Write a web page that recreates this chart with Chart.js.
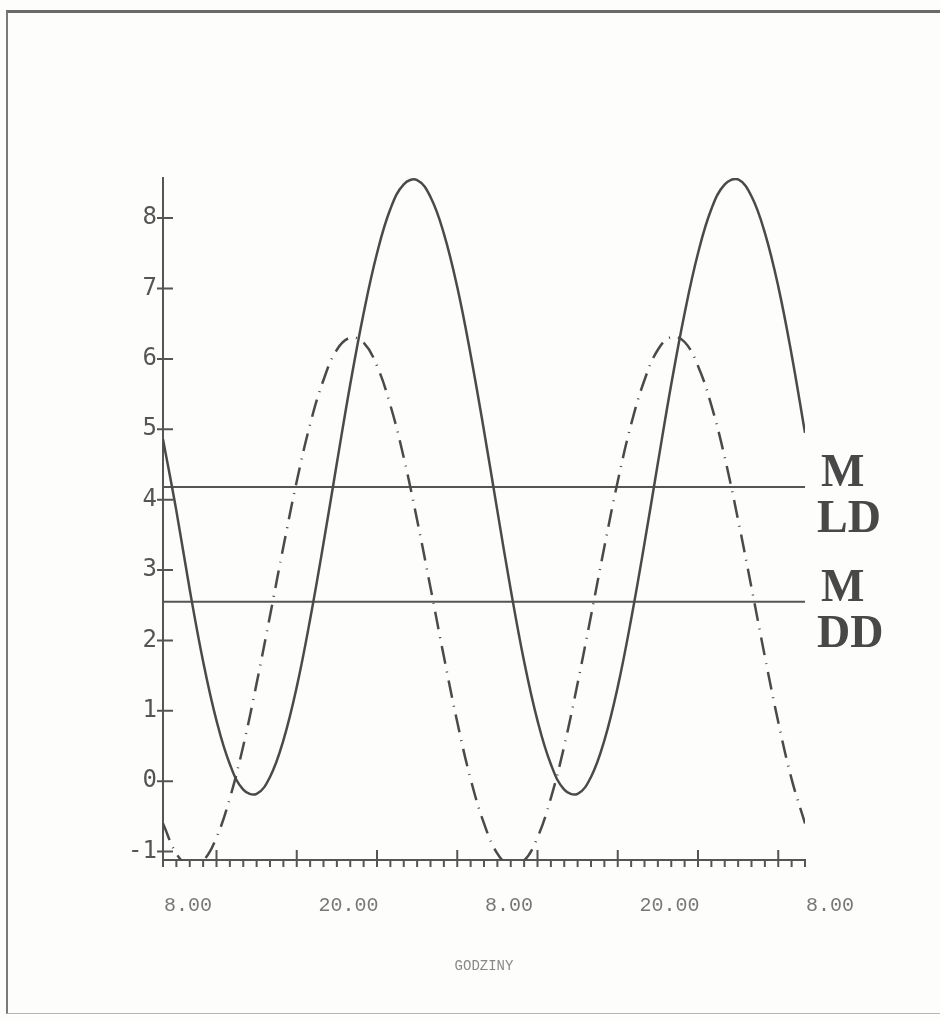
<!DOCTYPE html>
<html>
<head>
<meta charset="utf-8">
<script src="https://cdn.jsdelivr.net/npm/chart.js@4.4.0/dist/chart.umd.min.js"></script>
<style>
  html, body { margin: 0; padding: 0; background: #fdfdfc; }
  #frame {
    position: absolute; left: 6px; top: 10px; width: 940px; height: 1004px;
    border-top: 3px solid #6a6a6a; border-left: 2px solid #7a7a7a; border-bottom: 1px solid #b5b5b5;
    box-sizing: border-box;
  }
  #chart { position: absolute; left: 0; top: 0; }
</style>
</head>
<body>
<div id="frame"></div>
<canvas id="chart" width="940" height="1019"></canvas>
<script>
// ── DATA ─────────────────────────────────────────────────────
// hours counted from 8.00 on the first day
const hours = [0,1,2,3,4,5,6,7,8,9,10,11,12,13,14,15,16,17,18,19,20,21,22,23,24,
               25,26,27,28,29,30,31,32,33,34,35,36,37,38,39,40,41,42,43,44,45,46,47,48];

// solid curve (LD)
const ldValues = [4.86,3.84,2.72,1.70,0.86,0.24,-0.12,-0.18,0.06,0.58,1.34,2.30,3.38,4.52,5.64,6.65,7.50,8.13,8.48,8.54,8.30,7.78,7.02,6.06,4.98,
                  3.84,2.72,1.70,0.86,0.24,-0.12,-0.18,0.06,0.58,1.34,2.30,3.38,4.52,5.64,6.65,7.50,8.13,8.48,8.55,8.31,7.79,7.03,6.06,4.95];

// dash-dot curve (DD)
const ddValues = [-0.60,-1.03,-1.20,-1.13,-0.80,-0.24,0.50,1.39,2.35,3.33,4.26,5.07,5.70,6.13,6.30,6.23,5.90,5.34,4.60,3.71,2.75,1.77,0.84,0.03,-0.60,
                  -1.03,-1.20,-1.13,-0.80,-0.24,0.50,1.39,2.35,3.33,4.26,5.07,5.70,6.13,6.31,6.24,5.90,5.34,4.60,3.71,2.75,1.77,0.84,0.03,-0.60];

// mesor lines
const mesorNames  = ['LD', 'DD'];
const mesorValues = [4.18, 2.55];

// axes
const yTicks      = [-1, 0, 1, 2, 3, 4, 5, 6, 7, 8];
const xTickPos    = [0, 12, 24, 36, 48];
const xTickLabels = ['8.00', '20.00', '8.00', '20.00', '8.00'];
const majorHours  = [4, 10, 16, 22, 28, 34, 40, 46];
const xTitle      = 'GODZINY';

// ── STYLE ────────────────────────────────────────────────────
const INK  = '#4a4a4a';
const AXIS = '#555555';

const pts = vals => hours.map((h, i) => ({ x: h, y: vals[i] }));

// ── PLUGINS ──────────────────────────────────────────────────
const tickMarks = {
  id: 'tickMarks',
  afterDatasetsDraw(chart) {
    const { ctx, chartArea: a, scales: { x, y } } = chart;
    ctx.save();
    ctx.strokeStyle = AXIS;
    ctx.lineWidth = 2;
    ctx.beginPath();
    yTicks.forEach(v => {
      const py = y.getPixelForValue(v);
      ctx.moveTo(a.left - 6, py);
      ctx.lineTo(a.left + 10, py);
    });
    hours.forEach(h => {
      const px = x.getPixelForValue(h);
      const major = majorHours.includes(h);
      ctx.moveTo(px, a.bottom - (major ? 10 : 0));
      ctx.lineTo(px, a.bottom + 7);
    });
    // y axis runs a little past the x axis
    ctx.moveTo(a.left, a.bottom);
    ctx.lineTo(a.left, a.bottom + 6);
    ctx.stroke();
    ctx.restore();
  },
};

const mesorLabels = {
  id: 'mesorLabels',
  afterDatasetsDraw(chart) {
    const { ctx, chartArea: a, scales: { y } } = chart;
    ctx.save();
    ctx.fillStyle = '#484848';
    ctx.font = 'bold 46px "Liberation Serif"';
    ctx.textAlign = 'left';
    ctx.textBaseline = 'alphabetic';
    mesorNames.forEach((name, i) => {
      const py = y.getPixelForValue(mesorValues[i]);
      ctx.fillText('M', a.right + 16, py - 1);
      ctx.fillText(name, a.right + 12, py + 45);
    });
    ctx.restore();
  },
};

// ── CHART ────────────────────────────────────────────────────
new Chart(document.getElementById('chart'), {
  type: 'line',
  data: {
    datasets: [
      { data: pts(ldValues), borderColor: INK, borderWidth: 2.5, pointRadius: 0, tension: 0.4 },
      { data: pts(ddValues), borderColor: INK, borderWidth: 2.5, pointRadius: 0, tension: 0.4,
        borderDash: [18, 8, 1, 8] },
      ...mesorValues.map(v => ({
        data: [{ x: hours[0], y: v }, { x: hours[hours.length - 1], y: v }],
        borderColor: AXIS, borderWidth: 2, pointRadius: 0,
      })),
    ],
  },
  options: {
    responsive: false,
    animation: false,
    layout: { padding: { left: 0, right: 135, top: 178, bottom: 0 } },
    plugins: { legend: { display: false }, tooltip: { enabled: false } },
    scales: {
      x: {
        type: 'linear',
        min: 0,
        max: 48,
        afterBuildTicks: s => { s.ticks = xTickPos.map(v => ({ value: v })); },
        afterFit: s => { s.height = 159; },
        grid: { display: false, drawTicks: false },
        border: { color: AXIS, width: 2 },
        ticks: {
          callback: (v, i) => xTickLabels[i],
          autoSkip: false,
          maxRotation: 0,
          padding: 34,
          labelOffset: 25,
          color: '#777',
          font: { family: 'Liberation Mono', size: 20 },
        },
        title: {
          display: true,
          text: xTitle,
          color: '#888',
          font: { family: 'Liberation Mono', size: 14 },
          padding: { top: 4, bottom: 44 },
        },
      },
      y: {
        min: -1.12,
        max: 8.57,
        afterBuildTicks: s => { s.ticks = yTicks.map(v => ({ value: v })); },
        afterFit: s => { s.width = 163; },
        grid: { display: false, drawTicks: false },
        border: { color: AXIS, width: 2 },
        ticks: {
          callback: v => String(v),
          padding: 6,
          color: '#555',
          font: { family: 'DejaVu Sans Mono', size: 24 },
        },
      },
    },
  },
  plugins: [tickMarks, mesorLabels],
});
</script>
</body>
</html>
